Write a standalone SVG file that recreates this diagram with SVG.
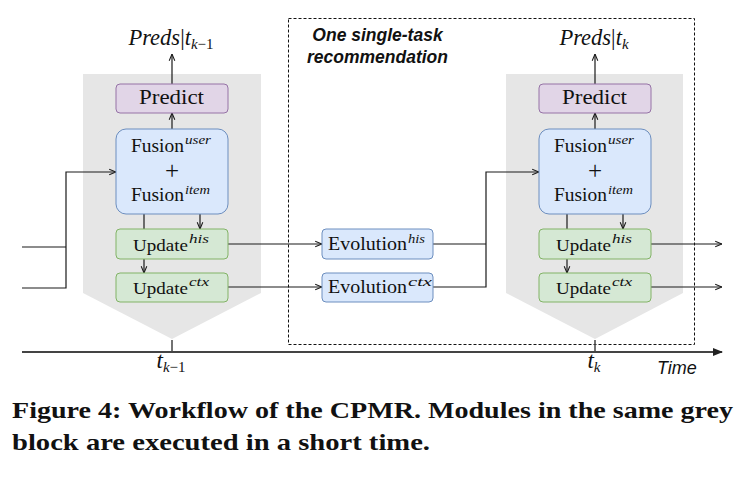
<svg xmlns="http://www.w3.org/2000/svg" width="744" height="478" viewBox="0 0 744 478">
<style>
.grey{fill:#e6e6e6;stroke:none}
.pred{fill:#e1d5e7;stroke:#9673a6;stroke-width:1}
.blue{fill:#dae8fc;stroke:#6c8ebf;stroke-width:1}
.green{fill:#d5e8d4;stroke:#82b366;stroke-width:1}
text{fill:#111}
.sup{font-style:italic}
.con{fill:none;stroke:#1a1a1a;stroke-width:1.2}
.cap{font-weight:bold;font-size:24px}
</style>
<defs>
<marker id="oa" viewBox="0 0 10 10" refX="9.5" refY="5" markerWidth="8" markerHeight="8" orient="auto" markerUnits="userSpaceOnUse">
<path d="M1,1.5 L9.5,5 L1,8.5" fill="none" stroke="#1a1a1a" stroke-width="1.3"/>
</marker>
<marker id="fa" viewBox="0 0 10 8" refX="9" refY="4" markerWidth="10" markerHeight="8" orient="auto" markerUnits="userSpaceOnUse">
<path d="M0,0 L10,4 L0,8 z" fill="#222"/>
</marker>
</defs>
<rect width="744" height="478" fill="#fff"/>

<g id="block-left"><polygon class="grey" points="83,74 261,74 261,293 172,339 83,293"/></g>
<g id="block-right"><polygon class="grey" points="506,74 683,74 683,293 595,339 506,293"/></g>

<g id="single-task-region">
<rect x="288.5" y="18.5" width="406" height="326" fill="none" stroke="#111" stroke-width="1" stroke-dasharray="3,2"/>
<text x="377.5" y="41" text-anchor="middle" font-family="Liberation Sans, Arial, sans-serif" font-weight="bold" font-style="italic" font-size="17.5">One single-task</text>
<text x="377.5" y="63" text-anchor="middle" font-family="Liberation Sans, Arial, sans-serif" font-weight="bold" font-style="italic" font-size="17.5">recommendation</text>
</g>

<g id="connectors">
<path class="con" d="M22,247 H66" stroke-width="1.5"/>
<path class="con" d="M22,288 H66 V172 H116" stroke-width="1.5" marker-end="url(#oa)"/>
<path class="con" d="M172,84 V54" marker-end="url(#oa)"/>
<path class="con" d="M172,129 V113" marker-end="url(#oa)"/>
<path class="con" d="M200,214 V229" marker-end="url(#oa)"/>
<path class="con" d="M144,214 V273" marker-end="url(#oa)"/>
<path class="con" d="M228,244 H322" marker-end="url(#oa)"/>
<path class="con" d="M228,287 H322" marker-end="url(#oa)"/>
<path class="con" d="M433,244 H486"/>
<path class="con" d="M433,287 H486 V172 H539" stroke-width="1.5" marker-end="url(#oa)"/>
<path class="con" d="M595,84 V54" marker-end="url(#oa)"/>
<path class="con" d="M595,129 V113" marker-end="url(#oa)"/>
<path class="con" d="M623,214 V229" marker-end="url(#oa)"/>
<path class="con" d="M567,214 V273" marker-end="url(#oa)"/>
<path class="con" d="M651,244 H722" marker-end="url(#oa)"/>
<path class="con" d="M651,287 H722" marker-end="url(#oa)"/>
<path d="M22,352 H722" fill="none" stroke="#444" stroke-width="1.8" marker-end="url(#fa)"/>
<path d="M172,340 V352 M595,340 V352" fill="none" stroke="#444" stroke-width="1.5"/>
</g>

<g font-family="Liberation Serif, Times New Roman, serif">
<g id="predict-left">
<rect class="pred" x="116" y="84" width="112" height="29" rx="4"/>
<text x="139" y="104" font-size="20" textLength="65" lengthAdjust="spacingAndGlyphs">Predict</text>
</g>
<g id="fusion-left">
<rect class="blue" x="116" y="129" width="112" height="85" rx="10"/>
<text x="131" y="152" font-size="18" textLength="53" lengthAdjust="spacingAndGlyphs">Fusion</text>
<text class="sup" x="185" y="144" font-size="12.5" textLength="26" lengthAdjust="spacingAndGlyphs">user</text>
<text x="172" y="179" font-size="25" text-anchor="middle">+</text>
<text x="131" y="201" font-size="18" textLength="53" lengthAdjust="spacingAndGlyphs">Fusion</text>
<text class="sup" x="185" y="194" font-size="12.5" textLength="25" lengthAdjust="spacingAndGlyphs">item</text>
</g>
<g id="update-his-left">
<rect class="green" x="116" y="229" width="112" height="30" rx="4"/>
<text x="133" y="251" font-size="17.5" textLength="55" lengthAdjust="spacingAndGlyphs">Update</text>
<text class="sup" x="189" y="243" font-size="12.5" textLength="20" lengthAdjust="spacingAndGlyphs">his</text>
</g>
<g id="update-ctx-left">
<rect class="green" x="116" y="273" width="112" height="29" rx="4"/>
<text x="133" y="294" font-size="17.5" textLength="55" lengthAdjust="spacingAndGlyphs">Update</text>
<text class="sup" x="189" y="286" font-size="12.5" textLength="20" lengthAdjust="spacingAndGlyphs">ctx</text>
</g>

<g id="evolution-his">
<rect class="blue" x="322" y="229" width="111" height="30" rx="4"/>
<text x="328" y="250" font-size="18.5" textLength="79" lengthAdjust="spacingAndGlyphs">Evolution</text>
<text class="sup" x="408" y="243" font-size="12.5" textLength="17" lengthAdjust="spacingAndGlyphs">his</text>
</g>
<g id="evolution-ctx">
<rect class="blue" x="322" y="273" width="111" height="29" rx="4"/>
<text x="328" y="293" font-size="18.5" textLength="79" lengthAdjust="spacingAndGlyphs">Evolution</text>
<text class="sup" x="408" y="286" font-size="12.5" textLength="24" lengthAdjust="spacingAndGlyphs">ctx</text>
</g>

<g id="predict-right">
<rect class="pred" x="539" y="84" width="112" height="29" rx="4"/>
<text x="562" y="104" font-size="20" textLength="65" lengthAdjust="spacingAndGlyphs">Predict</text>
</g>
<g id="fusion-right">
<rect class="blue" x="539" y="129" width="112" height="85" rx="10"/>
<text x="554" y="152" font-size="18" textLength="53" lengthAdjust="spacingAndGlyphs">Fusion</text>
<text class="sup" x="608" y="144" font-size="12.5" textLength="26" lengthAdjust="spacingAndGlyphs">user</text>
<text x="595" y="179" font-size="25" text-anchor="middle">+</text>
<text x="554" y="201" font-size="18" textLength="53" lengthAdjust="spacingAndGlyphs">Fusion</text>
<text class="sup" x="608" y="194" font-size="12.5" textLength="25" lengthAdjust="spacingAndGlyphs">item</text>
</g>
<g id="update-his-right">
<rect class="green" x="539" y="229" width="112" height="30" rx="4"/>
<text x="556" y="251" font-size="17.5" textLength="55" lengthAdjust="spacingAndGlyphs">Update</text>
<text class="sup" x="612" y="243" font-size="12.5" textLength="20" lengthAdjust="spacingAndGlyphs">his</text>
</g>
<g id="update-ctx-right">
<rect class="green" x="539" y="273" width="112" height="29" rx="4"/>
<text x="556" y="294" font-size="17.5" textLength="55" lengthAdjust="spacingAndGlyphs">Update</text>
<text class="sup" x="612" y="286" font-size="12.5" textLength="20" lengthAdjust="spacingAndGlyphs">ctx</text>
</g>

<g id="preds-left">
<text x="171" y="45" font-size="22.5" text-anchor="middle"><tspan font-style="italic">Preds</tspan>|<tspan font-style="italic">t</tspan><tspan font-size="15" dy="4" font-style="italic">k</tspan><tspan font-size="15">−1</tspan></text>
</g>
<g id="preds-right">
<text x="594" y="45" font-size="22.5" text-anchor="middle"><tspan font-style="italic">Preds</tspan>|<tspan font-style="italic">t</tspan><tspan font-size="15" dy="4" font-style="italic">k</tspan></text>
</g>

<g id="time-labels">
<text x="171" y="368" font-size="23" text-anchor="middle"><tspan font-style="italic">t</tspan><tspan font-size="15" dy="4" font-style="italic">k</tspan><tspan font-size="15">−1</tspan></text>
<text x="594" y="368" font-size="23" text-anchor="middle"><tspan font-style="italic">t</tspan><tspan font-size="15" dy="4" font-style="italic">k</tspan></text>
<text x="657" y="374" font-family="Liberation Sans, Arial, sans-serif" font-style="italic" font-size="18">Time</text>
</g>

<text class="cap" x="12" y="418" textLength="721" lengthAdjust="spacingAndGlyphs">Figure 4: Workflow of the CPMR. Modules in the same grey</text>
<text class="cap" x="12" y="450" textLength="418" lengthAdjust="spacingAndGlyphs">block are executed in a short time.</text>
</g>
</svg>
